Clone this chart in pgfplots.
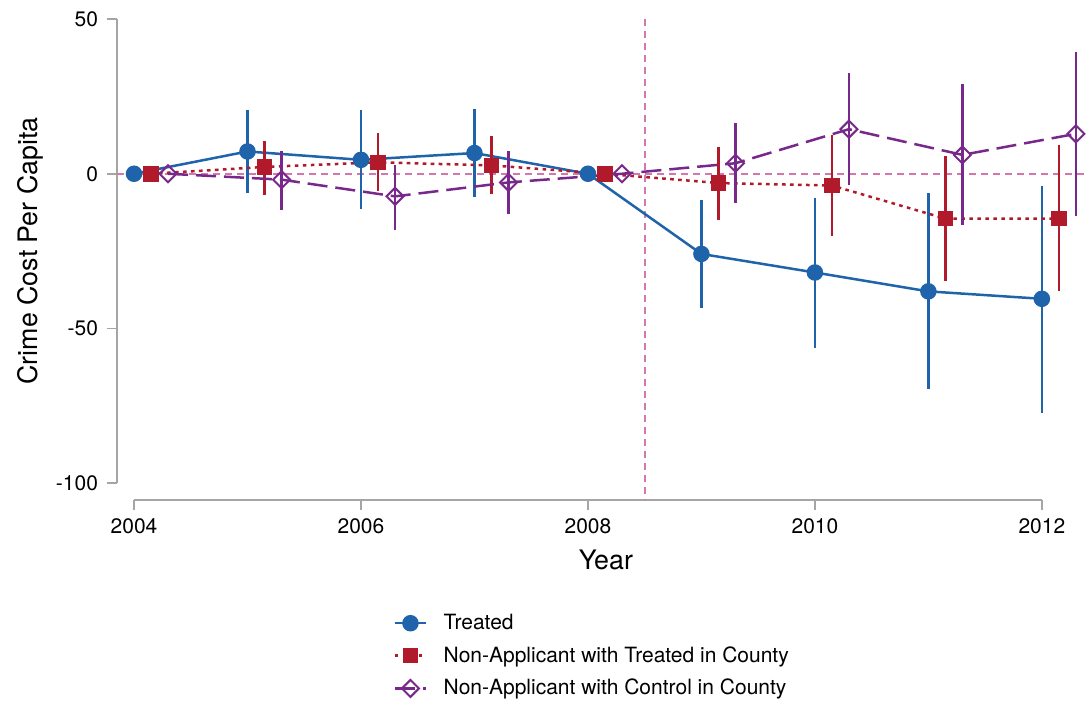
\documentclass[border=0pt]{standalone}
\usepackage{pgfplots}
\pgfplotsset{compat=1.18}
\usepackage{fontspec}
\setmainfont{TeX Gyre Heros}
\definecolor{cblue}{RGB}{31,99,170}
\definecolor{cred}{RGB}{176,26,42}
\definecolor{cpurple}{RGB}{120,40,138}
\definecolor{cpink}{RGB}{210,120,172}
\definecolor{cgray}{RGB}{165,165,165}
\begin{document}
\begin{tikzpicture}
\begin{axis}[
  at={(0,0)}, anchor=south west,
  scale only axis, width=484pt, height=240.5pt,
  xmin=2003.85, xmax=2012.38, ymin=-105.4, ymax=50,
  axis line style={draw=none},
  xtick={2004,2006,...,2012}, ytick={-100,-50,0,50},
  xticklabel style={/pgf/number format/1000 sep={}, font=\fontsize{10.5}{12}\selectfont, yshift=-1pt},
  yticklabel style={font=\fontsize{10.5}{12}\selectfont, xshift=-1pt},
  /pgf/number format/assume math mode=true,
  tick align=outside, major tick length=5pt,
  tick style={cgray, line width=0.8pt},
  xtick pos=bottom, ytick pos=left,
  clip=false,
  ylabel={Crime Cost Per Capita}, xlabel={Year},
  label style={font=\fontsize{13.4}{15}\selectfont},
  ylabel style={at={(axis description cs:-0.0899,0.518)}, anchor=center},
  xlabel style={at={(axis description cs:0.505,-0.125)}, anchor=center},
  legend style={at={(0.285,-0.228)}, anchor=north west, draw=none, fill=none,
    font=\fontsize{10.5}{12}\selectfont, row sep=3pt, column sep=6pt, inner sep=0pt},
  legend cell align=left,
  legend image code/.code={
    \draw[mark repeat=2,mark phase=2] plot coordinates {(0cm,0cm) (0.28cm,0cm) (0.56cm,0cm)};},
]
% axis lines (Stata style, separated)
\draw[cgray, line width=0.8pt] (axis cs:2003.85,50) -- (axis cs:2003.85,-100);
\draw[cgray, line width=0.8pt] (axis cs:2004,-105.4) -- (axis cs:2012,-105.4);
% reference lines
\draw[cpink, line width=0.9pt, dash pattern=on 3.5pt off 2.5pt] (axis cs:2003.85,0) -- (axis cs:2012.38,0);
\draw[cpink, line width=0.9pt, dash pattern=on 3.5pt off 2.5pt] (axis cs:2008.5,50) -- (axis cs:2008.5,-105.4);

\addplot[cblue, line width=1.25pt, mark=*, mark size=3.5pt,
  error bars/.cd, y dir=both, y explicit, error mark=none,
  error bar style={solid, line width=1.25pt, cblue}]
  table[x=x, y=y, y error plus=ep, y error minus=em] {
x y ep em
2004 0 0 0
2005 7.2 13.5 13.4
2006 4.5 16.0 15.9
2007 6.7 14.2 14.2
2008 0 0 0
2009 -25.9 17.5 17.5
2010 -31.9 24.0 24.5
2011 -38.0 31.7 31.6
2012 -40.4 36.6 36.8
};
\addlegendentry{Treated}

\addplot[cred, line width=1.25pt, dash pattern=on 1.8pt off 2.2pt, mark=square*, mark size=3.25pt, mark options={solid},
  error bars/.cd, y dir=both, y explicit, error mark=none,
  error bar style={solid, line width=1.25pt, cred}]
  table[x=x, y=y, y error plus=ep, y error minus=em] {
x y ep em
2004.15 0 0 0
2005.15 2.2 8.5 9.0
2006.15 3.7 9.5 9.4
2007.15 2.7 9.4 9.2
2008.15 0 0 0
2009.15 -3.0 11.6 11.9
2010.15 -3.8 16.2 16.2
2011.15 -14.5 20.1 20.3
2012.15 -14.5 23.7 23.5
};
\addlegendentry{Non-Applicant with Treated in County}

\addplot[cpurple, line width=1.25pt, dash pattern=on 10pt off 4pt, mark=square, mark size=3pt,
  mark options={solid, rotate=45, fill=white, line width=1pt},
  error bars/.cd, y dir=both, y explicit, error mark=none,
  error bar style={solid, line width=1.25pt, cpurple}]
  table[x=x, y=y, y error plus=ep, y error minus=em] {
x y ep em
2004.3 0 0 0
2005.3 -1.9 9.4 9.7
2006.3 -7.3 10.2 10.8
2007.3 -2.8 10.0 10.1
2008.3 0 0 0
2009.3 3.4 13.0 12.9
2010.3 14.4 18.2 18.0
2011.3 6.1 22.9 22.6
2012.3 12.9 26.4 26.5
};
\addlegendentry{Non-Applicant with Control in County}
\end{axis}
\pgfresetboundingbox
\path (-58.5pt,-101pt) rectangle (486pt,250pt);
\end{tikzpicture}
\end{document}
